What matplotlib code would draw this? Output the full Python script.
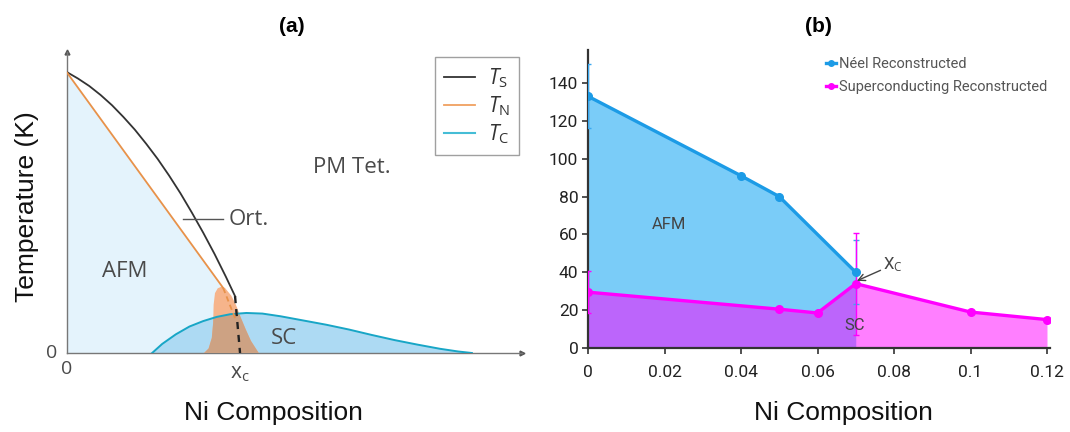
import matplotlib
matplotlib.use("Agg")
import matplotlib.pyplot as plt
from matplotlib.patches import Polygon
from matplotlib.lines import Line2D
import numpy as np

# ---------------- Panel (a): schematic phase diagram (arbitrary units) ----------------
a_ts_x = [0.0, 0.25, 0.5, 0.75, 1.0, 1.25, 1.5, 1.75, 2.0, 2.25, 2.5, 2.75,
          3.0, 3.25, 3.5, 3.70]
a_ts_y = [9.34, 9.12, 8.87, 8.57, 8.23, 7.84, 7.42, 6.95, 6.45, 5.90, 5.31, 4.67,
          4.00, 3.29, 2.53, 1.89]
a_ts_dash_x = [3.70, 3.81]
a_ts_dash_y = [1.89, 0.0]

a_tn_x = [0.0, 1.72, 3.44]
a_tn_y = [9.34, 5.75, 2.16]
a_tn_dash_x = [3.44, 3.70]
a_tn_dash_y = [2.16, 1.16]

a_tc_x = [1.88, 2.10, 2.40, 2.70, 3.00, 3.30, 3.60, 3.95, 4.30, 4.70, 5.20,
          5.70, 6.20, 6.70, 7.20, 7.70, 8.20, 8.60, 8.90]
a_tc_y = [0.0, 0.30, 0.62, 0.88, 1.06, 1.20, 1.29, 1.33, 1.31, 1.22, 1.08,
          0.94, 0.78, 0.60, 0.43, 0.28, 0.14, 0.05, 0.0]

a_dome_x = [3.02, 3.12, 3.19, 3.22, 3.23, 3.26, 3.32, 3.40, 3.48, 3.62, 3.72,
            3.82, 3.93, 4.05, 4.22]
a_dome_y = [0.0, 0.15, 0.50, 1.00, 1.60, 1.99, 2.15, 2.20, 2.16, 1.90, 1.60,
            1.20, 0.80, 0.40, 0.0]

a_legend_labels = [r"$T_\mathrm{S}$", r"$T_\mathrm{N}$", r"$T_\mathrm{C}$"]

# ---------------- Panel (b): reconstructed data ----------------
b_comp_neel = [0.0, 0.04, 0.05, 0.07]
b_neel = [133, 91, 80, 40]
b_neel_err = [17, 0, 0, 17]

b_comp_sc = [0.0, 0.05, 0.06, 0.07, 0.10, 0.12]
b_sc = [29.5, 20.5, 18.5, 34, 19, 15]
b_sc_err = [11, 0, 0, 27, 0, 0]

b_xticks = [0, 0.02, 0.04, 0.06, 0.08, 0.1, 0.12]
b_xticklabels = ["0", "0.02", "0.04", "0.06", "0.08", "0.1", "0.12"]
b_yticks = [0, 20, 40, 60, 80, 100, 120, 140]
b_legend_labels = ["Néel Reconstructed", "Superconducting Reconstructed"]

# ---------------- style ----------------
plt.rcParams['font.family'] = ['Liberation Sans', 'DejaVu Sans']
plt.rcParams['mathtext.fontset'] = 'custom'
plt.rcParams['mathtext.rm'] = 'Open Sans'
plt.rcParams['mathtext.it'] = 'Open Sans:italic'

W, H = 1070, 432
fig = plt.figure(figsize=(W / 100, H / 100), dpi=100)

def fx(px):
    return px / W

def fy(py):
    return 1 - py / H

NARROW = ['Roboto', 'DejaVu Sans']
HUMAN = ['Open Sans', 'DejaVu Sans']
TXT = '#4a4a4a'

# ===== Panel (a) =====
axa = fig.add_axes([fx(66.5), fy(353), fx(522) - fx(66.5), fy(52) - fy(353)])
axa.set_xlim(0, 10)
axa.set_ylim(0, 10)
for s in ['top', 'right']:
    axa.spines[s].set_visible(False)
for s in ['left', 'bottom']:
    axa.spines[s].set_color('#777777')
    axa.spines[s].set_linewidth(1.0)
axa.set_xticks([])
axa.set_yticks([])
axa.plot(1, 0, '>', transform=axa.transAxes, clip_on=False, ms=3.5, color='#555555')
axa.plot(0, 1, '^', transform=axa.transAxes, clip_on=False, ms=3.5, color='#555555')

# AFM pale region
afm_x = [0] + a_tn_x + a_tn_dash_x[1:] + [a_ts_dash_x[1]]
afm_y = [0] + a_tn_y + a_tn_dash_y[1:] + [0]
axa.add_patch(Polygon(np.column_stack([afm_x, afm_y]), closed=True,
                      facecolor='#E4F3FC', edgecolor='none', zorder=1))
# SC region
sc_poly = Polygon(np.column_stack([a_tc_x, a_tc_y]), closed=True,
                  facecolor='#ADDAF3', edgecolor='none', zorder=2)
axa.add_patch(sc_poly)
# coexistence dome
dome_xy = np.column_stack([a_dome_x, a_dome_y])
axa.add_patch(Polygon(dome_xy, closed=True, facecolor='#F6B48B', edgecolor='none', zorder=3))
dome_in = Polygon(dome_xy, closed=True, facecolor='#CDA283', edgecolor='none', zorder=3.5)
axa.add_patch(dome_in)
dome_in.set_clip_path(sc_poly)

axa.plot(a_ts_x, a_ts_y, color='#333333', lw=1.3, zorder=5)
axa.plot(a_tn_x, a_tn_y, color='#E8924A', lw=1.3, zorder=5)
axa.plot(a_tc_x, a_tc_y, color='#18A6C6', lw=1.4, zorder=5)
axa.plot(a_tn_dash_x, a_tn_dash_y, color='#E8924A', lw=1.3, ls=(0, (3, 2)), zorder=6)
axa.plot(a_ts_dash_x, a_ts_dash_y, color='#222222', lw=1.7, ls=(0, (3, 2.5)), zorder=6)

# annotations
axa.plot([2.56, 3.44], [4.45, 4.45], color='#555555', lw=1.0, zorder=6)
axa.text(3.57, 4.45, "Ort.", fontsize=16, family=HUMAN, color=TXT, va='center', ha='left')
axa.text(6.27, 6.15, "PM Tet.", fontsize=16, family=HUMAN, color=TXT, va='center', ha='center')
axa.text(1.28, 2.72, "AFM", fontsize=16, family=HUMAN, color=TXT, va='center', ha='center', zorder=7)
axa.text(4.78, 0.47, "SC", fontsize=16, family=HUMAN, color=TXT, va='center', ha='center', zorder=7)

fig.text(fx(52), fy(353), "0", fontsize=14, family=HUMAN, color=TXT, ha='center', va='center')
fig.text(fx(67), fy(369), "0", fontsize=14, family=HUMAN, color=TXT, ha='center', va='center')
fig.text(fx(240), fy(374), r"$\mathrm{x_c}$", fontsize=15, color=TXT, ha='center', va='center')

leg_handles = [Line2D([], [], color='#333333', lw=1.3),
               Line2D([], [], color='#F0A060', lw=1.3),
               Line2D([], [], color='#45BDD6', lw=1.5)]
lega = axa.legend(leg_handles, a_legend_labels, loc='upper right',
                  bbox_to_anchor=(fx(519), fy(57)), bbox_transform=fig.transFigure,
                  fontsize=15, frameon=True, fancybox=False, borderaxespad=0,
                  handlelength=1.5, handletextpad=0.6, labelspacing=0.2, borderpad=0.45)
lega.get_frame().set_edgecolor('#888888')
lega.get_frame().set_linewidth(1.0)
for t in lega.get_texts():
    t.set_color('#333333')

fig.text(fx(27), fy(207), "Temperature (K)", fontsize=19, rotation=90, ha='center', va='center', color='#111111')
fig.text(fx(273), fy(413), "Ni Composition", fontsize=19, ha='center', va='center', color='#111111')
fig.text(fx(292), fy(27), "(a)", fontsize=15, fontweight='bold', ha='center', va='center')

# ===== Panel (b) =====
axb = fig.add_axes([fx(588), fy(348), fx(1050) - fx(588), fy(50) - fy(348)])
x_right = 0.12 * (1050 - 588) / (1047 - 588)
y_top = (348 - 50) / ((348 - 83) / 140)
axb.set_xlim(0, x_right)
axb.set_ylim(0, y_top)
for s in ['top', 'right']:
    axb.spines[s].set_visible(False)
for s in ['left', 'bottom']:
    axb.spines[s].set_color('#333333')
    axb.spines[s].set_linewidth(1.6)

blue_line = '#1C9BE6'
blue_fill = '#7ACCF8'
mag = '#FF00FF'

axb.fill_between(b_comp_neel, b_neel, 0, color=blue_fill, lw=0, zorder=1)
axb.fill_between(b_comp_sc, b_sc, 0, color=mag, alpha=0.5, lw=0, zorder=2)

axb.plot(b_comp_neel, b_neel, color=blue_line, lw=2.4, marker='o', ms=5.5, zorder=4)
axb.plot(b_comp_sc, b_sc, color=mag, lw=2.4, marker='o', ms=5.5, zorder=4)

ne = [i for i, e in enumerate(b_neel_err) if e > 0]
axb.errorbar([b_comp_neel[i] for i in ne], [b_neel[i] for i in ne],
             yerr=[b_neel_err[i] for i in ne], fmt='none', ecolor='#3AA8F0',
             elinewidth=1.0, capsize=2, capthick=1.0, zorder=3)
se = [i for i, e in enumerate(b_sc_err) if e > 0]
axb.errorbar([b_comp_sc[i] for i in se], [b_sc[i] for i in se],
             yerr=[b_sc_err[i] for i in se], fmt='none', ecolor=mag,
             elinewidth=1.0, capsize=2, capthick=1.0, zorder=3)

axb.set_xticks(b_xticks)
axb.set_xticklabels(b_xticklabels)
axb.set_yticks(b_yticks)
axb.tick_params(axis='both', direction='out', length=4, width=1.2, color='#333333',
                labelsize=12.5, labelcolor='#222222')
axb.tick_params(axis='x', pad=8)
axb.tick_params(axis='y', pad=3)
for lab in axb.get_xticklabels() + axb.get_yticklabels():
    lab.set_family(NARROW)

axb.text(0.0212, 65, "AFM", fontsize=12, family=NARROW, color='#444444', ha='center', va='center', zorder=6)
axb.text(0.0698, 12, "SC", fontsize=12, family=NARROW, color='#444444', ha='center', va='center', zorder=6)
axb.annotate(r"X$_\mathrm{C}$", xy=(0.0703, 35.5), xytext=(0.0772, 44),
             fontsize=12, family=NARROW, color='#444444', ha='left', va='center',
             arrowprops=dict(arrowstyle='->', color='#444444', lw=1.0, shrinkA=0, shrinkB=0),
             zorder=6)

hb = [Line2D([], [], color=blue_line, lw=2.4, marker='o', ms=4),
      Line2D([], [], color=mag, lw=2.4, marker='o', ms=4)]
legb = axb.legend(hb, b_legend_labels, loc='upper left',
                  bbox_to_anchor=(fx(826), fy(57)), bbox_transform=fig.transFigure,
                  frameon=False, borderaxespad=0, borderpad=0, handlelength=0.7,
                  handletextpad=0.2, labelspacing=0.6, prop={'family': NARROW, 'size': 10.5})
for t in legb.get_texts():
    t.set_color('#555555')

fig.text(fx(843), fy(413), "Ni Composition", fontsize=19, ha='center', va='center', color='#111111')
fig.text(fx(818), fy(27), "(b)", fontsize=15, fontweight='bold', ha='center', va='center')

fig.savefig("out.png", dpi=100)
